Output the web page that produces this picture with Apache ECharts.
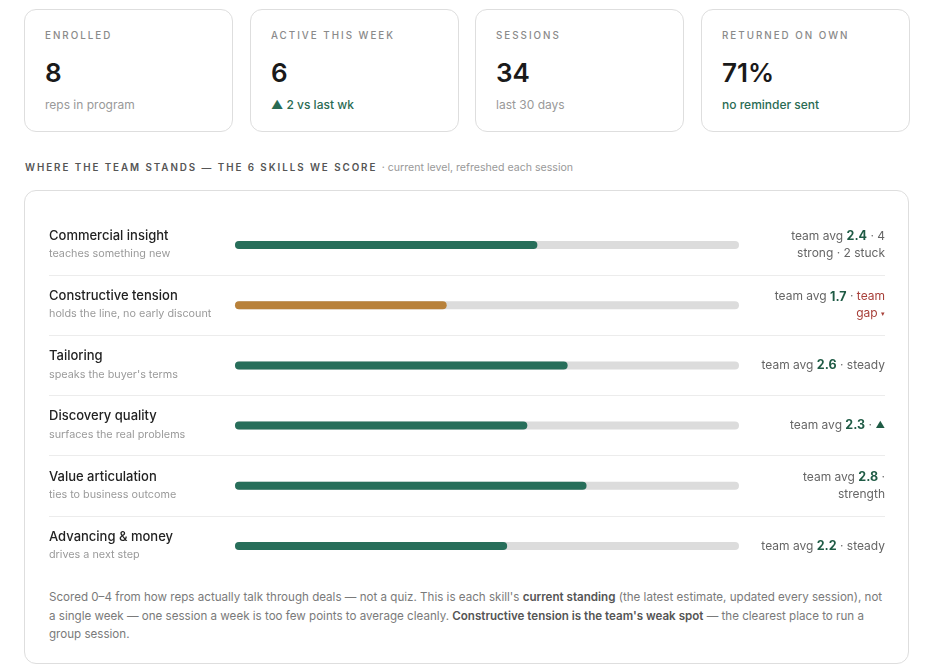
<!DOCTYPE html>
<html>
<head>
<meta charset="utf-8">
<script src="https://cdn.jsdelivr.net/npm/echarts@6/dist/echarts.min.js"></script>
<style>
  html, body { margin: 0; padding: 0; background: #fff; }
  body { width: 943px; height: 672px; position: relative; overflow: hidden;
         font-family: Inter, 'Noto Sans', sans-serif; color: #1a1a1a; }
  .card { position: absolute; top: 9px; width: 207px; height: 121px;
          border: 1px solid #dedede; border-radius: 12px; background: #fff; }
  .card .lbl { position: absolute; left: 20px; top: 20px; font-size: 9.8px; letter-spacing: 2px;
               color: #8a8a8a; font-weight: 500; line-height: 12px; }
  .card .val { position: absolute; left: 20px; top: 47px; font-size: 26px; font-weight: 600; color: #1a1a1a;
               line-height: 32px; }
  .card .sub { position: absolute; left: 20px; top: 88px; font-size: 12px; color: #999; line-height: 14px; }
  .card .sub.good { color: #2a6b53; font-weight: 500; }
  .head { position: absolute; left: 25px; top: 162px; font-size: 9.8px; letter-spacing: 1.95px;
          color: #555; font-weight: 600; white-space: nowrap; line-height: 12px; }
  .head span { letter-spacing: 0; font-weight: 400; color: #999; font-size: 10.6px; }
  .panel { position: absolute; left: 24px; top: 190px; width: 883px; height: 472px;
           border: 1px solid #dedede; border-radius: 12px; }
  .sep { position: absolute; left: 49px; width: 836px; height: 1px; background: #ececec; }
  .foot { position: absolute; left: 49px; top: 588px; width: 840px; font-size: 11.6px; line-height: 18.5px;
          color: #7a7a7a; }
  .foot b { color: #555; font-weight: 600; }
  #chart { position: absolute; left: 0; top: 0; width: 943px; height: 672px; }
</style>
</head>
<body>
<div class="card" style="left:24px"><div class="lbl">ENROLLED</div><div class="val">8</div><div class="sub">reps in program</div></div>
<div class="card" style="left:250px"><div class="lbl">ACTIVE THIS WEEK</div><div class="val">6</div><div class="sub good">▲ 2 vs last wk</div></div>
<div class="card" style="left:475px"><div class="lbl">SESSIONS</div><div class="val">34</div><div class="sub">last 30 days</div></div>
<div class="card" style="left:701px"><div class="lbl">RETURNED ON OWN</div><div class="val">71%</div><div class="sub good">no reminder sent</div></div>

<div class="head">WHERE THE TEAM STANDS — THE 6 SKILLS WE SCORE <span>· current level, refreshed each session</span></div>

<div class="panel"></div>
<div class="sep" style="top:275px"></div>
<div class="sep" style="top:335px"></div>
<div class="sep" style="top:395px"></div>
<div class="sep" style="top:455px"></div>
<div class="sep" style="top:516px"></div>

<div class="foot">Scored 0–4 from how reps actually talk through deals — not a quiz. This is each skill's <b>current standing</b> (the latest estimate, updated every session), not a single week — one session a week is too few points to average cleanly. <b>Constructive tension is the team's weak spot</b> — the clearest place to run a group session.</div>

<div id="chart"></div>

<script>
const skills = ['Commercial insight', 'Constructive tension', 'Tailoring', 'Discovery quality', 'Value articulation', 'Advancing & money']
const hints = ['teaches something new', 'holds the line, no early discount', "speaks the buyer's terms", 'surfaces the real problems', 'ties to business outcome', 'drives a next step']
// current standing, 0-4 scale (bar length as drawn)
const levels = [2.4, 1.68, 2.64, 2.32, 2.79, 2.16]
const teamAvg = ['2.4', '1.7', '2.6', '2.3', '2.8', '2.2']
const weakSpot = 1
// rich-text tails after the avg value
const tails = [
  '{t| · 4}\n{t|strong · 2 stuck}',
  '{t| · }{r|team}\n{r|gap }{rs|▾}',
  '{t| · steady}',
  '{t| · }{g|▲}',
  '{t| ·}\n{t|strength}',
  '{t| · steady}'
]

const GREEN = '#276e5a'
const GOLD = '#b8813a'
const FONT = "Inter, 'Noto Sans', sans-serif"

const chart = echarts.init(document.getElementById('chart'))
chart.setOption({
  animation: false,
  textStyle: { fontFamily: FONT },
  grid: { left: 235, right: 204, top: 215, height: 361 },
  xAxis: { type: 'value', min: 0, max: 4, show: false },
  yAxis: [{
    type: 'category',
    inverse: true,
    data: skills,
    axisLine: { show: false },
    axisTick: { show: false },
    axisLabel: {
      align: 'left',
      margin: 186,
      formatter: (v, i) => `{n|${v}}\n{s|${hints[i]}}`,
      rich: {
        n: { fontSize: 13, fontWeight: 500, color: '#222', lineHeight: 18, fontFamily: FONT },
        s: { fontSize: 10.8, color: '#9a9a9a', lineHeight: 18, fontFamily: FONT }
      }
    }
  }, {
    type: 'category',
    inverse: true,
    position: 'right',
    data: skills,
    axisLine: { show: false },
    axisTick: { show: false },
    axisLabel: {
      align: 'right',
      margin: 146,
      formatter: (v, i) => `{t|team avg }{v|${teamAvg[i]}}${tails[i]}`,
      rich: {
        t: { fontSize: 12, color: '#666', lineHeight: 17, fontFamily: FONT },
        v: { fontSize: 12.5, fontWeight: 700, color: '#1f5b45', lineHeight: 17, fontFamily: FONT },
        r: { fontSize: 12, color: '#a8403a', lineHeight: 17, fontFamily: FONT },
        rs: { fontSize: 7, color: '#a8403a', lineHeight: 17, fontFamily: FONT },
        g: { fontSize: 9.5, color: '#1f5b45', lineHeight: 17, fontFamily: FONT }
      }
    }
  }],
  series: [{
    type: 'bar',
    barWidth: 8,
    showBackground: true,
    backgroundStyle: { color: '#dcdcdc', borderRadius: 4 },
    data: levels.map((v, i) => ({
      value: v,
      itemStyle: { color: i === weakSpot ? GOLD : GREEN, borderRadius: 4 }
    }))
  }]
})
</script>
</body>
</html>
